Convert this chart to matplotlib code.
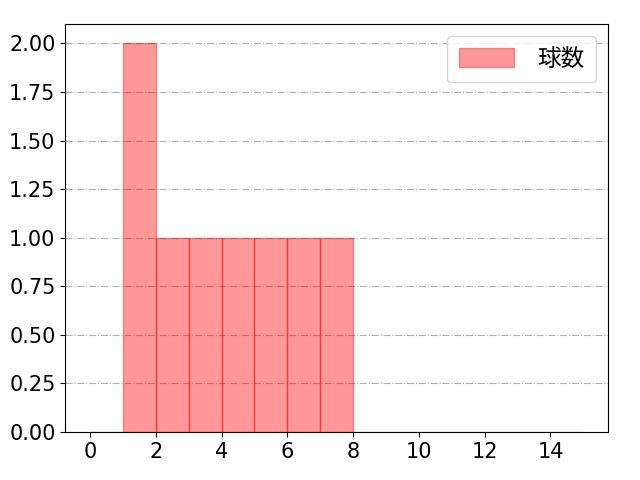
import numpy as np
from matplotlib import pyplot as plt

plt.rcParams['font.family'] = ['DejaVu Sans', 'Noto Sans CJK JP']

# 球数 per pitch bucket
pitches = [1, 1, 2, 3, 4, 5, 6, 7]
bins = np.arange(0, 16)

fig, ax = plt.subplots(figsize=(6.4, 4.8), dpi=100)
ax.hist(pitches, bins=bins, color='red', alpha=0.4, edgecolor='red', linewidth=1, label='球数')
ax.grid(axis='y', linestyle='-.', color='#b0b0b0')
ax.set_axisbelow(True)
ax.yaxis.set_major_formatter(plt.FormatStrFormatter('%.2f'))
ax.set_xticks(np.arange(0, 16, 2))
ax.tick_params(labelsize=15)
ax.legend(prop={'family': 'Noto Sans CJK JP', 'size': 17}, loc='upper right',
          handlelength=2.3, handleheight=0.85, handletextpad=1.0, borderpad=0.5)
fig.subplots_adjust(left=0.102, right=0.95, bottom=0.1, top=0.95)
fig.savefig('out.png')
